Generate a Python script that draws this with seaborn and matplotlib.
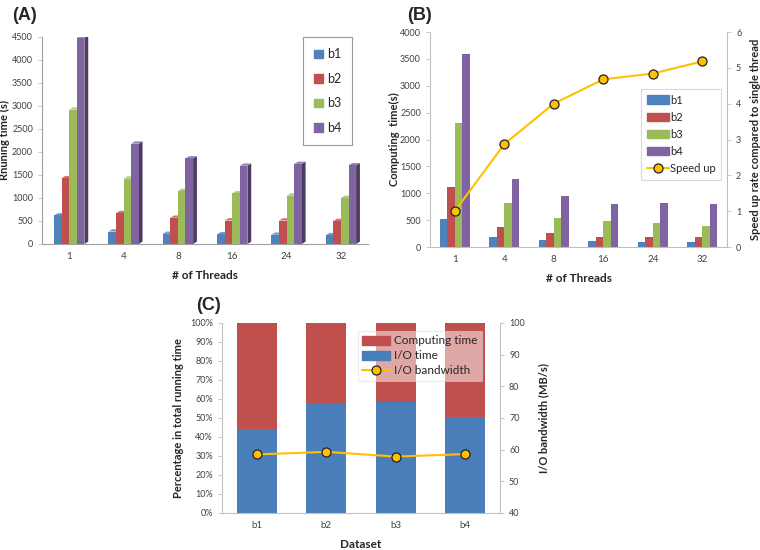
import numpy as np
import pandas as pd
import seaborn as sns
import matplotlib.pyplot as plt
from matplotlib.patches import Polygon
from matplotlib.lines import Line2D
from matplotlib.colors import to_rgb

# values
threads = ['1', '4', '8', '16', '24', '32']
datasets = ['b1', 'b2', 'b3', 'b4']

# (A) running time (s)
run_b1 = [620, 270, 220, 210, 200, 190]
run_b2 = [1430, 670, 570, 510, 510, 500]
run_b3 = [2920, 1420, 1150, 1100, 1050, 1000]
run_b4 = [4480, 2180, 1860, 1700, 1740, 1710]

# (B) computing time (s) and speed up
comp_b1 = [520, 180, 130, 120, 100, 95]
comp_b2 = [1120, 370, 260, 190, 190, 185]
comp_b3 = [2310, 810, 540, 490, 440, 390]
comp_b4 = [3590, 1270, 950, 800, 820, 800]
speedup = [1.0, 2.87, 4.0, 4.68, 4.84, 5.18]

# (C) share of total running time (%) and I/O bandwidth (MB/s)
io_pct = [44.0, 58.0, 58.3, 50.3]
comp_pct = [56.0, 42.0, 41.7, 49.7]
bandwidth = [58.5, 59.3, 57.8, 58.6]

COLORS = ['#4F81BD', '#C0504D', '#9BBB59', '#8064A2']
YELLOW = '#FFC000'
TICK_C = '#404040'
SPINE_C = '#BFBFBF'
LABEL_FS = 8

sns.set_theme(style='white')
plt.rcParams['font.family'] = ['Lato', 'DejaVu Sans']


def long_df(series):
    rows = []
    for name, vals in zip(datasets, series):
        for t, v in zip(threads, vals):
            rows.append({'dataset': name, 'threads': t, 'value': v})
    return pd.DataFrame(rows)


def shade(color, f):
    r, g, b = to_rgb(color)
    if f < 1:
        return (r * f, g * f, b * f)
    return (r + (1 - r) * (f - 1), g + (1 - g) * (f - 1), b + (1 - b) * (f - 1))


def style_axis(ax):
    ax.tick_params(axis='y', labelsize=6.5, colors=TICK_C, length=3, width=0.6,
                   direction='out', left=True, color=SPINE_C)
    ax.tick_params(axis='x', labelsize=7, colors=TICK_C, length=0, pad=6)
    for s in ['top', 'right']:
        ax.spines[s].set_visible(False)
    for s in ['left', 'bottom']:
        ax.spines[s].set_color(SPINE_C)
        ax.spines[s].set_linewidth(0.8)


def style_right(ax):
    ax.tick_params(axis='y', labelsize=6.5, colors=TICK_C, length=3, width=0.6,
                   direction='out', right=True, color=SPINE_C)
    for s in ['top', 'left', 'bottom']:
        ax.spines[s].set_visible(False)
    ax.spines['right'].set_color(SPINE_C)
    ax.spines['right'].set_linewidth(0.8)


def yellow_line():
    return dict(color=YELLOW, lw=1.5, marker='o', markersize=6.5, markerfacecolor=YELLOW,
                markeredgecolor='#222222', markeredgewidth=0.9)


fig = plt.figure(figsize=(7.6, 5.5), dpi=100)

# ---------------- (A) ----------------
axA = fig.add_axes([0.0553, 0.5564, 0.429, 0.3764])
dfA = long_df([run_b1, run_b2, run_b3, run_b4])
sns.barplot(data=dfA, x='threads', y='value', hue='dataset', palette=COLORS,
            width=0.56, gap=0, saturation=1, linewidth=0, edgecolor='none',
            ax=axA, zorder=3)
axA.get_legend().remove()
dx, dy = 0.07, 50
for i, p in enumerate(list(axA.patches)[:24]):
    col = COLORS[i // 6]
    x0, w, h = p.get_x(), p.get_width(), p.get_height()
    side = Polygon([(x0 + w, 0), (x0 + w + dx, dy), (x0 + w + dx, h + dy), (x0 + w, h)],
                   closed=True, facecolor=shade(col, 0.6), edgecolor='none', zorder=2)
    top = Polygon([(x0, h), (x0 + dx, h + dy), (x0 + w + dx, h + dy), (x0 + w, h)],
                  closed=True, facecolor=shade(col, 1.2), edgecolor='none', zorder=2)
    axA.add_patch(side)
    axA.add_patch(top)
axA.set_xlim(-0.5, 5.5)
axA.set_ylim(0, 4500)
axA.set_yticks(range(0, 4501, 500))
style_axis(axA)
axA.spines['left'].set_color('#A0A0A0')
axA.spines['bottom'].set_color('#A0A0A0')
axA.set_xlabel('# of Threads', fontsize=8.5, fontweight='bold', labelpad=6)
axA.set_ylabel('Rnuning time (s)', fontsize=LABEL_FS, fontweight='bold')
axA.yaxis.set_label_coords(-0.098, 0.5)
hA = [plt.Rectangle((0, 0), 1, 1, color=c) for c in COLORS]
legA = axA.legend(hA, datasets, loc='upper left', bbox_to_anchor=(303 / 760, 1 - 37 / 550),
                  bbox_transform=fig.transFigure, fontsize=9, handlelength=0.7,
                  handleheight=0.7, handletextpad=0.3, labelspacing=1.0,
                  borderpad=0.9, borderaxespad=0, fancybox=False, frameon=True)
legA.get_frame().set_edgecolor('#808080')
legA.get_frame().set_linewidth(0.8)

# ---------------- (B) ----------------
axB = fig.add_axes([0.5658, 0.5509, 0.3908, 0.3909])
dfB = long_df([comp_b1, comp_b2, comp_b3, comp_b4])
sns.barplot(data=dfB, x='threads', y='value', hue='dataset', palette=COLORS,
            width=0.6, gap=0, saturation=1, linewidth=0, edgecolor='none',
            ax=axB, zorder=2)
axB.get_legend().remove()
axB.set_xlim(-0.5, 5.5)
axB.set_ylim(0, 4000)
axB.set_yticks(range(0, 4001, 500))
style_axis(axB)
axB.set_xlabel('# of Threads', fontsize=8.5, fontweight='bold', labelpad=6)
axB.set_ylabel('Computing  time(s)', fontsize=LABEL_FS, fontweight='bold')
axB.yaxis.set_label_coords(-0.101, 0.5)

axB2 = axB.twinx()
sns.lineplot(x=np.arange(len(threads)), y=speedup, ax=axB2, zorder=4, **yellow_line())
axB2.set_xlim(-0.5, 5.5)
axB2.set_ylim(0, 6)
axB2.set_yticks(range(0, 7))
style_right(axB2)
axB2.set_ylabel('Speed up rate compared to single thread', fontsize=LABEL_FS,
                fontweight='bold')
axB2.yaxis.set_label_coords(1.077, 0.5)
hB = [plt.Rectangle((0, 0), 1, 1, color=c) for c in COLORS]
hB.append(Line2D([], [], **yellow_line()))
legB = axB2.legend(hB, datasets + ['Speed up'], loc='upper left',
                   bbox_to_anchor=(641 / 760, 1 - 89 / 550), bbox_transform=fig.transFigure,
                   fontsize=8, handlelength=2.0, handleheight=0.8, handletextpad=0.1,
                   labelspacing=0.55, borderpad=0.5, borderaxespad=0, fancybox=False,
                   frameon=True, framealpha=1)
legB.get_frame().set_edgecolor('#D9D9D9')
legB.get_frame().set_linewidth(0.8)

# ---------------- (C) ----------------
axC = fig.add_axes([0.2921, 0.0673, 0.3658, 0.3455])
total_pct = [a + b for a, b in zip(io_pct, comp_pct)]
sns.barplot(x=datasets, y=total_pct, color='#C0504D', width=0.57, saturation=1,
            linewidth=0, edgecolor='none', ax=axC, zorder=2)
sns.barplot(x=datasets, y=io_pct, color='#4A7EBB', width=0.57, saturation=1,
            linewidth=0, edgecolor='none', ax=axC, zorder=2)
axC.set_xlim(-0.5, 3.5)
axC.set_ylim(0, 100)
axC.set_yticks(range(0, 101, 10))
axC.set_yticklabels([f'{v}%' for v in range(0, 101, 10)])
style_axis(axC)
axC.set_xlabel('Dataset', fontsize=8.5, fontweight='bold', labelpad=6)
axC.set_ylabel('Percentage in total running time', fontsize=LABEL_FS, fontweight='bold')
axC.yaxis.set_label_coords(-0.137, 0.5)

axC2 = axC.twinx()
sns.lineplot(x=np.arange(len(datasets)), y=bandwidth, ax=axC2, zorder=4, **yellow_line())
axC2.set_xlim(-0.5, 3.5)
axC2.set_ylim(40, 100)
axC2.set_yticks(range(40, 101, 10))
style_right(axC2)
axC2.set_ylabel('I/O bandwidth (MB/s)', fontsize=LABEL_FS, fontweight='bold')
axC2.yaxis.set_label_coords(1.137, 0.5)
hC = [plt.Rectangle((0, 0), 1, 1, color='#C0504D'),
      plt.Rectangle((0, 0), 1, 1, color='#4A7EBB'),
      Line2D([], [], **yellow_line())]
legC = axC2.legend(hC, ['Computing time', 'I/O time', 'I/O bandwidth'], loc='upper left',
                   bbox_to_anchor=(358 / 760, 1 - 331 / 550), bbox_transform=fig.transFigure,
                   fontsize=8.5, handlelength=2.4, handleheight=0.8, handletextpad=0.3,
                   labelspacing=0.35, borderpad=0.35, borderaxespad=0, fancybox=False,
                   frameon=True, framealpha=0.5)
legC.get_frame().set_edgecolor('#D9D9D9')
legC.get_frame().set_linewidth(0.8)

# panel letters
for txt, x, y in [('(A)', 12, 15), ('(B)', 407, 15), ('(C)', 196, 305)]:
    fig.text(x / 760, 1 - y / 550, txt, fontsize=13, fontweight='bold',
             family=['Liberation Sans', 'DejaVu Sans'], va='center', ha='left')

fig.savefig('out.png', dpi=100)
